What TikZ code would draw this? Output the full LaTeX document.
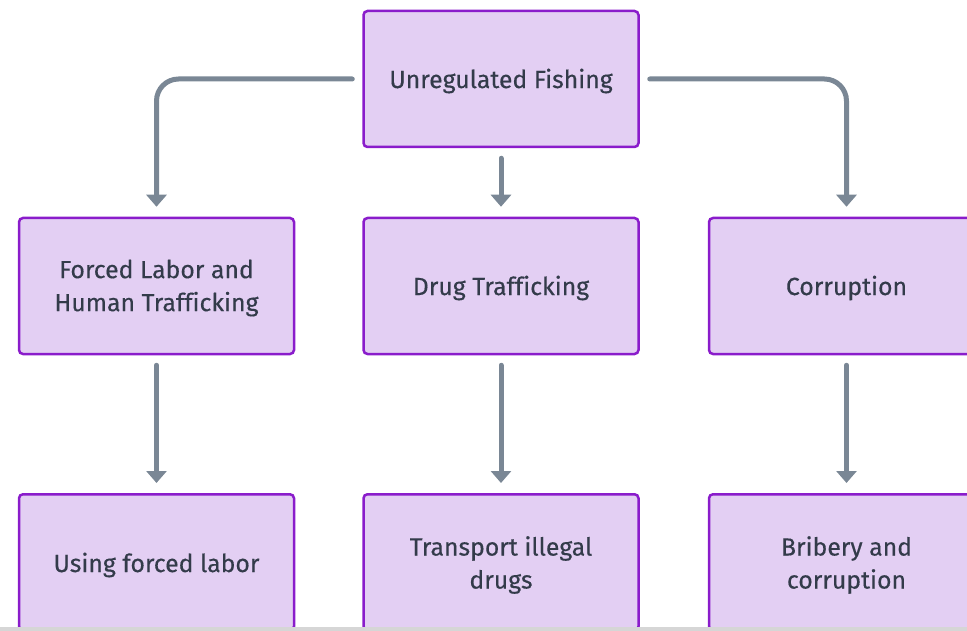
\documentclass[tikz,border=0pt]{standalone}
\usepackage{fontspec}
\setmainfont{Fira Sans}[FakeBold=0.35,Ligatures=NoCommon]
\usetikzlibrary{arrows.meta}
\definecolor{boxfill}{HTML}{E3CFF3}
\definecolor{boxdraw}{HTML}{8A1CCB}
\definecolor{conncol}{HTML}{7A8795}
\definecolor{txtcol}{HTML}{333B4A}
\definecolor{stripcol}{HTML}{D6D6D6}
\tikzset{
  boxtext/.style={text=txtcol, font=\fontsize{24.8}{33}\selectfont, align=center},
  box/.style={draw=boxdraw, fill=boxfill, line width=2.5pt, rounded corners=4pt,
    minimum width=275pt, minimum height=136pt, inner sep=0pt, boxtext},
  conn/.style={draw=conncol, line width=5pt, line cap=round,
    -{Triangle[width=20pt,length=12pt]}, shorten >=10pt, shorten <=10pt},
}
\begin{document}
\begin{tikzpicture}[x=1pt,y=-1pt]
\useasboundingbox (0,0) rectangle (967,631);
\clip (0,0) rectangle (967,631);
\node[box] (top) at (501,79) {};
\node[boxtext] (topt) at (501,81) {Unregulated Fishing};
\node[box] (forced) at (156.5,286) {};
\node[boxtext] (forcedt) at (156.5,288) {Forced Labor and\\Human Trafficking};
\node[box] (drug) at (501,286) {};
\node[boxtext] (drugt) at (501,288) {Drug Trafficking};
\node[box] (corr) at (846.5,286) {};
\node[boxtext] (corrt) at (846.5,288) {Corruption};
\node[box, anchor=north] (using) at (156.5,493) {};
\node[box, anchor=north] (transport) at (501,493) {};
\node[box, anchor=north] (bribery) at (846.5,493) {};
\node[boxtext] (usingt) at (156.5,565) {Using forced labor};
\node[boxtext] (transportt) at (501,565) {Transport illegal\\drugs};
\node[boxtext] (briberyt) at (846.5,565) {Bribery and\\corruption};
\draw[conn, rounded corners=22pt] (top.west) -| (forced.north);
\draw[conn, rounded corners=22pt] (top.east) -| (corr.north);
\draw[conn] (top.south) -- (drug.north);
\draw[conn] (forced.south) -- (using.north);
\draw[conn] (drug.south) -- (transport.north);
\draw[conn] (corr.south) -- (bribery.north);
\fill[stripcol] (0,627) rectangle (967,631);
\end{tikzpicture}
\end{document}
